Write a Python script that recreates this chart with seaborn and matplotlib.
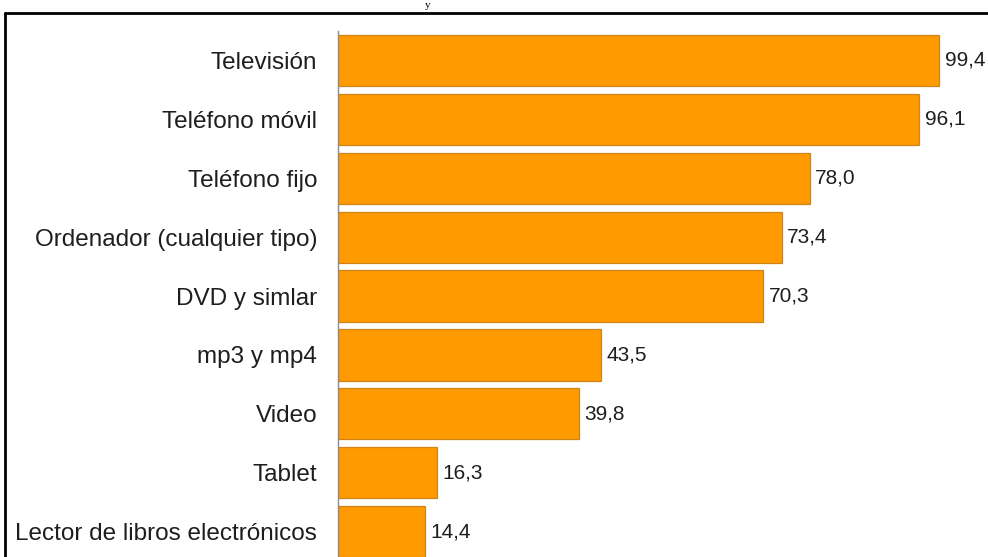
import numpy as np
import pandas as pd
import matplotlib
matplotlib.use("Agg")
import matplotlib.pyplot as plt
from matplotlib.lines import Line2D
import seaborn as sns

categories = [
    "Televisión",
    "Teléfono móvil",
    "Teléfono fijo",
    "Ordenador (cualquier tipo)",
    "DVD y simlar",
    "mp3 y mp4",
    "Video",
    "Tablet",
    "Lector de libros electrónicos",
]
values = [99.4, 96.1, 78.0, 73.4, 70.3, 43.5, 39.8, 16.3, 14.4]
value_labels = [f"{v:.1f}".replace(".", ",") for v in values]

sns.set_style("white")
plt.rcParams["font.family"] = ["Liberation Sans", "DejaVu Sans"]

df = pd.DataFrame({"equipo": categories, "pct": values})

fig = plt.figure(figsize=(9.88, 5.57), dpi=100)
W, H = 988, 557
# axes placed in pixel terms: spine at x=338, rows from y=31 to y=561 (cut off)
ax = fig.add_axes([338 / W, -0.0072, 1 - 338 / W, 530 / H])

sns.barplot(data=df, x="pct", y="equipo", order=categories, color="#FF9A00",
            saturation=1, width=0.87, edgecolor="#D08418", linewidth=0.9, ax=ax)

for cont in ax.containers:
    ax.bar_label(cont, labels=value_labels, padding=4, fontsize=15, color="#1e1e1e")

ax.set_xlim(0, 107.5)
ax.set_ylim(len(categories) - 0.5, -0.5)
ax.set_xlabel("")
ax.set_ylabel("")
ax.set_xticks([])

for side in ["top", "right", "bottom"]:
    ax.spines[side].set_visible(False)
ax.spines["left"].set_color("#8c8c8c")
ax.spines["left"].set_linewidth(1.0)

ax.tick_params(axis="y", which="major", length=0, pad=15, labelsize=17.5, labelcolor="#1e1e1e")
ax.set_yticks(np.arange(-0.5, len(categories), 1.0), minor=True)
ax.tick_params(axis="y", which="minor", length=4.5, width=1, color="#8797a8")

# outer frame of the picture (cut on the right and bottom)
fx0 = 5 / W
fy0 = 1 - 13 / H
fig.add_artist(Line2D([fx0, 1.01], [fy0, fy0], color="black", lw=2, transform=fig.transFigure))
fig.add_artist(Line2D([fx0, fx0], [fy0, -0.01], color="black", lw=2, transform=fig.transFigure))

# remnant of the title above the frame
fig.text(428 / W, 1 - 1 / H, "y", ha="center", va="top", fontsize=8,
         family=["Liberation Serif", "DejaVu Serif"], color="black")

fig.savefig("out.png", dpi=100)
